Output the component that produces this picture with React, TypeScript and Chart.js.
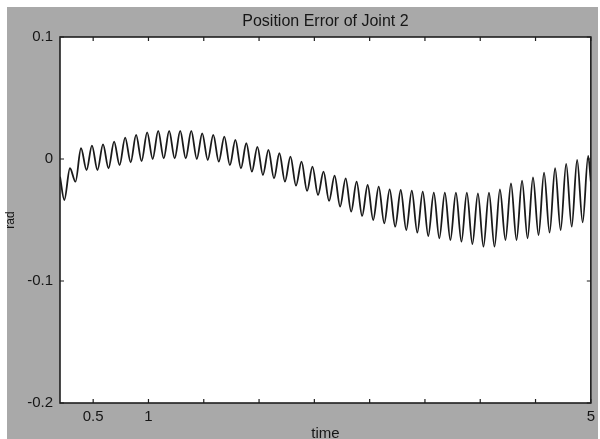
import { useEffect, useRef } from "react";
import { Chart, registerables } from "chart.js";

Chart.register(...registerables);

// Joint 2 position error (rad) sampled at the crests and troughs of the ~10 Hz ripple
const time = [
  0.2, 0.239, 0.29, 0.34, 0.39, 0.44, 0.489, 0.539, 0.589, 0.639, 0.689, 0.739,
  0.789, 0.839, 0.888, 0.938, 0.988, 1.038, 1.088, 1.138, 1.187, 1.237, 1.287, 1.337,
  1.387, 1.437, 1.486, 1.536, 1.586, 1.636, 1.686, 1.736, 1.786, 1.836, 1.885, 1.935,
  1.985, 2.035, 2.085, 2.135, 2.184, 2.234, 2.284, 2.334, 2.384, 2.434, 2.483, 2.533,
  2.583, 2.633, 2.683, 2.733, 2.783, 2.833, 2.882, 2.932, 2.982, 3.032, 3.082, 3.132,
  3.181, 3.231, 3.281, 3.331, 3.381, 3.431, 3.48, 3.53, 3.58, 3.63, 3.68, 3.73,
  3.78, 3.83, 3.879, 3.929, 3.979, 4.029, 4.079, 4.129, 4.178, 4.228, 4.278, 4.328,
  4.378, 4.428, 4.477, 4.527, 4.577, 4.627, 4.677, 4.727, 4.777, 4.827, 4.876, 4.926,
  4.976, 5.0,
];

const error = [
  -0.0145, -0.0336, -0.0076, -0.0186, 0.0088, -0.009, 0.011, -0.009, 0.012, -0.0076, 0.0142, -0.005,
  0.0175, -0.0027, 0.0197, -0.0017, 0.0219, 0.0, 0.023, 0.0006, 0.023, 0.0006, 0.023, 0.0006,
  0.023, 0.0, 0.021, -0.0008, 0.0197, -0.0022, 0.0183, -0.005, 0.0156, -0.0076, 0.0129, -0.0104,
  0.01, -0.0131, 0.0074, -0.0158, 0.0047, -0.0186, 0.0019, -0.0219, -0.0022, -0.0262, -0.0063, -0.0295,
  -0.0104, -0.0344, -0.0137, -0.039, -0.0158, -0.0432, -0.0186, -0.0467, -0.0213, -0.05, -0.0227, -0.0527,
  -0.0249, -0.0555, -0.0254, -0.0582, -0.026, -0.0604, -0.0268, -0.0631, -0.0276, -0.065, -0.0276, -0.0664,
  -0.0276, -0.0678, -0.0276, -0.0698, -0.0281, -0.0719, -0.0276, -0.0719, -0.0249, -0.0664, -0.02, -0.0664,
  -0.0178, -0.065, -0.015, -0.0623, -0.0112, -0.0604, -0.0076, -0.0582, -0.004, -0.0555, -0.0008, -0.052,
  0.0025, -0.0186,
];

const xTicks = [0.5, 1, 1.5, 2, 2.5, 3, 3.5, 4, 4.5, 5];
const xTickLabels = ["0.5", "1", "", "", "", "", "", "", "", "5"];
const yTicks = [-0.2, -0.1, 0, 0.1];
const yTickLabels = ["-0.2", "-0.1", "0", "0.1"];

const W = 600;
const H = 439;
const FONT = '"Liberation Sans", Arial, Helvetica, sans-serif';
const INK = "#161616";
const PANEL = "#a9a9a9";

// Grey figure panel, white axes box, inward tick marks and the title
const figurePlugin = {
  id: "figure",
  beforeDraw(chart: any) {
    const { ctx, chartArea: a } = chart;
    ctx.save();
    ctx.fillStyle = "#ffffff";
    ctx.fillRect(0, 0, W, H);
    ctx.fillStyle = PANEL;
    ctx.fillRect(7, 7, 591, H - 7);
    ctx.fillStyle = "#ffffff";
    ctx.fillRect(a.left, a.top, a.right - a.left, a.bottom - a.top);
    ctx.restore();
  },
  afterDraw(chart: any) {
    const { ctx, chartArea: a, scales } = chart;
    ctx.save();
    ctx.strokeStyle = "#1e1e1e";
    ctx.lineWidth = 1.6;
    ctx.strokeRect(a.left, a.top, a.right - a.left, a.bottom - a.top);

    ctx.lineWidth = 1.2;
    ctx.beginPath();
    for (const v of xTicks) {
      const px = scales.x.getPixelForValue(v);
      ctx.moveTo(px, a.bottom);
      ctx.lineTo(px, a.bottom - 4);
      ctx.moveTo(px, a.top);
      ctx.lineTo(px, a.top + 4);
    }
    for (const v of yTicks) {
      const py = scales.y.getPixelForValue(v);
      ctx.moveTo(a.left, py);
      ctx.lineTo(a.left + 4, py);
      ctx.moveTo(a.right, py);
      ctx.lineTo(a.right - 4, py);
    }
    ctx.stroke();

    ctx.fillStyle = INK;
    ctx.font = `16px ${FONT}`;
    ctx.textAlign = "center";
    ctx.textBaseline = "middle";
    ctx.fillText("Position Error of Joint 2", (a.left + a.right) / 2, 22);
    ctx.restore();
  },
};

export default function App() {
  const canvasRef = useRef<HTMLCanvasElement>(null);

  useEffect(() => {
    const canvas = canvasRef.current;
    if (!canvas) return;
    const points = time.map((t, i) => ({ x: t, y: error[i] }));

    const chart = new Chart(canvas, {
      type: "line",
      data: {
        datasets: [
          {
            data: points,
            borderColor: "#1a1a1a",
            borderWidth: 1.8,
            pointRadius: 0,
            fill: false,
            cubicInterpolationMode: "monotone",
          },
        ],
      },
      options: {
        animation: false,
        responsive: false,
        devicePixelRatio: 1,
        events: [],
        layout: { padding: { left: 0, right: 7, top: 37, bottom: 0 } },
        plugins: {
          legend: { display: false },
          title: { display: false },
          tooltip: { enabled: false },
        },
        scales: {
          x: {
            type: "linear",
            min: 0.2,
            max: 5,
            afterBuildTicks: (s: any) => {
              s.ticks = xTicks.map((v) => ({ value: v }));
            },
            afterFit: (s: any) => {
              s.height = 36;
            },
            grid: { display: false, drawTicks: false },
            border: { display: false },
            ticks: {
              autoSkip: false,
              maxRotation: 0,
              padding: 5,
              color: INK,
              font: { family: FONT, size: 15 },
              callback: (v: any) => {
                const i = xTicks.indexOf(Number(v));
                return i >= 0 ? xTickLabels[i] : "";
              },
            },
            title: {
              display: true,
              text: "time",
              color: INK,
              padding: 0,
              font: { family: FONT, size: 15, lineHeight: 0.7 },
            },
          },
          y: {
            type: "linear",
            min: -0.2,
            max: 0.1,
            afterBuildTicks: (s: any) => {
              s.ticks = yTicks.map((v) => ({ value: v }));
            },
            afterFit: (s: any) => {
              s.width = 60;
            },
            grid: { display: false, drawTicks: false },
            border: { display: false },
            ticks: {
              autoSkip: false,
              padding: 7,
              color: INK,
              font: { family: FONT, size: 15 },
              callback: (v: any) => {
                const i = yTicks.indexOf(Number(v));
                return i >= 0 ? yTickLabels[i] : "";
              },
            },
            title: {
              display: true,
              text: "rad",
              color: INK,
              padding: { top: 3, bottom: 0 },
              font: { family: FONT, size: 12 },
            },
          },
        },
      },
      plugins: [figurePlugin],
    } as any);

    return () => chart.destroy();
  }, []);

  return (
    <div style={{ position: "absolute", left: 0, top: 0, width: W, height: H, overflow: "hidden" }}>
      <canvas ref={canvasRef} width={W} height={H} style={{ display: "block", width: W, height: H }} />
    </div>
  );
}
